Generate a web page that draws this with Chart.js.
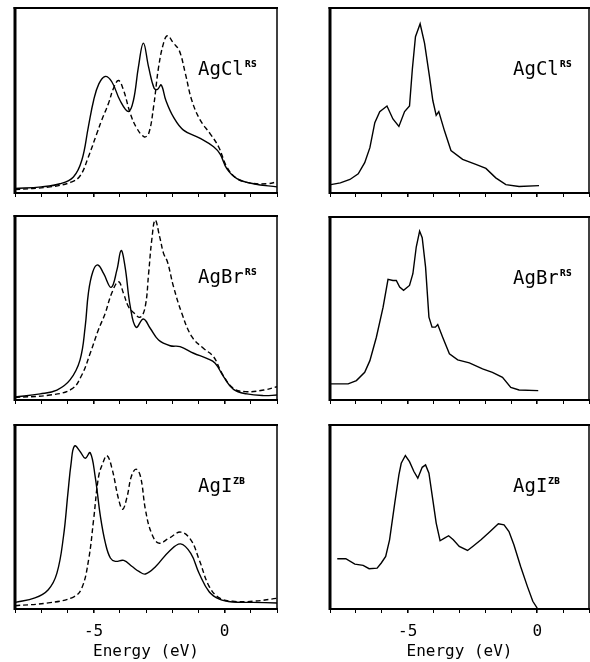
<!DOCTYPE html>
<html>
<head>
<meta charset="utf-8">
<style>
  html, body { margin: 0; padding: 0; background: #fff; overflow: hidden; width: 590px; height: 662px; }
  canvas { position: absolute; }
</style>
</head>
<body>
<canvas id="p1" style="left:11px;top:4px" width="270" height="197"></canvas>
<canvas id="p2" style="left:326px;top:4px" width="267" height="197"></canvas>
<canvas id="p3" style="left:11px;top:212px" width="270" height="196"></canvas>
<canvas id="p4" style="left:326px;top:213px" width="267" height="195"></canvas>
<canvas id="p5" style="left:11px;top:421px" width="270" height="240"></canvas>
<canvas id="p6" style="left:326px;top:421px" width="267" height="240"></canvas>

<script src="https://cdn.jsdelivr.net/npm/chart.js"></script>
<script>
// energy axis
var tickLabels = [-5, 0];

// AgCl (rock salt)
var agclSolidE = [-8, -7, -6.28, -5.77, -5.45, -5.2, -5.0, -4.8, -4.56, -4.3, -3.99, -3.67, -3.48, -3.29, -3.1, -2.9, -2.69, -2.56, -2.42, -2.24, -1.95, -1.57, -0.93, -0.42, -0.17, 0.09, 0.47, 1.1, 2];
var agclSolid = [2.4, 3.3, 5, 8.7, 17.7, 35.8, 50, 59, 63, 60, 50, 44, 50, 68, 81, 68, 56.6, 56, 58.4, 50, 41, 34, 29.5, 25, 21, 13, 7.8, 5, 3.3];
var agclDashE = [-8, -6.66, -5.83, -5.5, -5.2, -4.88, -4.69, -4.43, -4.24, -4.05, -3.86, -3.6, -3.35, -3.07, -2.9, -2.71, -2.52, -2.33, -2.18, -1.95, -1.73, -1.5, -1.25, -0.93, -0.55, -0.23, 0.09, 0.47, 0.98, 1.62, 2];
var agclDash = [1.8, 3.3, 6, 9.6, 19.5, 32, 39.4, 48.5, 56.6, 60.8, 55.7, 43, 35, 30.4, 32, 46.7, 68, 81, 85, 81, 77, 64.7, 50, 39.4, 32, 25, 14, 7.8, 5.4, 5, 6];
var agclExpE = [-7.97, -7.6, -7.23, -6.91, -6.66, -6.46, -6.27, -6.08, -5.8, -5.57, -5.34, -5.12, -4.93, -4.82, -4.7, -4.52, -4.35, -4.16, -4.03, -3.9, -3.8, -3.58, -3.33, -2.88, -2.37, -1.98, -1.6, -1.21, -0.7, 0.07];
var agclExp = [4.5, 5.5, 7.3, 10.4, 16.4, 24.5, 38, 44, 47, 40, 36, 44, 47, 67, 84.5, 91.5, 81, 63, 50, 42, 44, 33.6, 23, 18.2, 15.5, 13.3, 8.2, 4.5, 3.5, 4];

// AgBr (rock salt)
var agbrSolidE = [-8, -7.04, -6.4, -5.9, -5.52, -5.32, -5.2, -5.03, -4.84, -4.62, -4.33, -4.11, -3.95, -3.8, -3.6, -3.38, -3.1, -2.84, -2.52, -2.08, -1.7, -1.18, -0.68, -0.36, -0.04, 0.34, 0.85, 1.49, 2];
var agbrSolid = [1.6, 3.3, 5.4, 10.9, 21.7, 40, 58, 69.7, 73.4, 68.8, 61.2, 70.7, 81.2, 72.5, 50.7, 39.5, 44, 39, 32.6, 29.5, 29, 25.4, 22.6, 20, 12.7, 5.8, 3.3, 2.4, 2.7];
var agbrDashE = [-8, -6.66, -5.83, -5.45, -5.13, -4.82, -4.56, -4.31, -4.05, -3.86, -3.67, -3.48, -3.22, -3.03, -2.9, -2.78, -2.65, -2.48, -2.33, -2.18, -1.95, -1.63, -1.25, -0.8, -0.42, -0.1, 0.34, 0.85, 1.49, 2];
var agbrDash = [1.4, 2.7, 6, 13.6, 25.4, 38, 47, 58, 64.3, 58, 50.7, 47.6, 45, 50.7, 68.8, 87, 97.8, 88.8, 79.7, 75, 61.6, 47, 34.4, 28, 23.5, 14.5, 6.3, 4.5, 5.4, 7.2];
var agbrExpE = [-7.97, -7.3, -6.98, -6.66, -6.46, -6.21, -5.95, -5.76, -5.57, -5.44, -5.31, -5.16, -4.93, -4.8, -4.67, -4.54, -4.44, -4.31, -4.18, -4.06, -3.93, -3.84, -3.65, -3.39, -3.07, -2.62, -2.11, -1.73, -1.34, -1.02, -0.7, 0.04];
var agbrExp = [8.8, 8.8, 10.6, 15.1, 21.5, 34.3, 50.7, 65.9, 65.3, 65.3, 61.7, 59.9, 62.6, 69, 83.6, 92.3, 88.7, 72.6, 45.3, 39.8, 39.8, 41.2, 34.3, 25.2, 21.9, 20.3, 17, 15.1, 12.4, 6.9, 5.5, 5.1];

// AgI (zinc blende)
var agiSolidE = [-8, -7.24, -6.73, -6.4, -6.15, -5.98, -5.86, -5.73, -5.51, -5.32, -5.13, -4.94, -4.74, -4.55, -4.36, -4.17, -3.85, -3.53, -3.27, -3.02, -2.63, -2.12, -1.68, -1.29, -0.97, -0.59, -0.2, 0.31, 1.08, 2];
var agiSolid = [3.6, 6, 10.5, 19.5, 39.4, 63, 79, 88.6, 85.5, 81.9, 85, 72, 50.3, 35.8, 27.7, 25.9, 26.4, 23.1, 20.4, 19, 23.1, 31.3, 35.4, 30.2, 19.3, 9.4, 5.4, 3.8, 3.6, 3.3];
var agiDashE = [-8, -6.73, -5.77, -5.45, -5.19, -5, -4.81, -4.65, -4.49, -4.3, -4.04, -3.89, -3.72, -3.56, -3.38, -3.21, -3.02, -2.79, -2.51, -2.12, -1.68, -1.29, -0.97, -0.59, -0.2, 0.31, 1.08, 2];
var agiDash = [1.8, 3.3, 6.5, 11.4, 26.8, 48.5, 72, 79.2, 83.4, 76.5, 59.3, 54.2, 61.1, 72, 76, 72, 53.9, 41.2, 35.8, 38.5, 41.8, 37.6, 26.8, 12.3, 6, 4.2, 4.2, 5.8];
var agiExpE = [-7.72, -7.39, -7.04, -6.72, -6.49, -6.18, -6.02, -5.85, -5.7, -5.5, -5.34, -5.25, -5.09, -4.93, -4.76, -4.61, -4.44, -4.31, -4.18, -4.03, -3.9, -3.75, -3.58, -3.42, -3.24, -3.01, -2.69, -2.49, -2.17, -1.86, -1.5, -1.28, -1.09, -0.9, -0.64, -0.38, -0.17, 0];
var agiExp = [27.3, 27.3, 24.4, 23.7, 21.9, 22.2, 25, 28.6, 37.6, 57.5, 72.9, 79.2, 83.4, 80.1, 74.7, 71.1, 77, 78.3, 73.8, 59.3, 46.7, 37.1, 38.5, 39.8, 37.6, 34, 31.8, 34, 37.6, 41.6, 46.3, 45.7, 42.1, 34.9, 23.1, 12.3, 4.2, 0.5];

// box round the plot area (left, top, right; bottom is the x axis)
var framePlugin = {
  id: 'frame',
  afterDraw: function (c) {
    var a = c.chartArea, g = c.ctx;
    g.save();
    g.strokeStyle = '#000';
    g.lineWidth = 3;
    g.beginPath(); g.moveTo(a.left, a.bottom + 1); g.lineTo(a.left, a.top - 1); g.stroke();
    g.lineWidth = 2;
    g.beginPath(); g.moveTo(a.left - 1.5, a.top); g.lineTo(a.right + 1, a.top); g.stroke();
    g.lineWidth = 1.5;
    g.beginPath(); g.moveTo(a.right, a.top); g.lineTo(a.right, a.bottom); g.stroke();
    g.restore();
  }
};

function tagPlugin(text, sup) {
  return {
    id: 'tag',
    afterDraw: function (c) {
      var a = c.chartArea, g = c.ctx;
      var x = a.left + 183, y = a.top + 67;
      g.save();
      g.fillStyle = '#000';
      g.font = '19px "DejaVu Sans Mono"';
      g.textBaseline = 'alphabetic';
      g.fillText(text, x, y);
      var w = g.measureText(text).width;
      g.font = 'bold 8px "DejaVu Sans"';
      g.textBaseline = 'top';
      g.fillText(sup, x + w + 1, y - 14);
      g.restore();
    }
  };
}

function panel(id, text, sup, lines, bottom) {
  var ds = lines.map(function (l) {
    return {
      data: l.e.map(function (e, i) { return {x: e, y: l.y[i]}; }),
      borderColor: '#000',
      borderWidth: 1.4,
      borderDash: l.dash ? [5, 3] : [],
      pointRadius: 0,
      fill: false,
      tension: l.smooth ? 0.4 : 0
    };
  });
  new Chart(document.getElementById(id), {
    type: 'line',
    data: {datasets: ds},
    options: {
      responsive: false,
      animation: false,
      devicePixelRatio: 1,
      layout: {padding: {left: 4, right: 4, top: 4, bottom: 0}},
      plugins: {legend: {display: false}, tooltip: {enabled: false}},
      scales: {
        x: {
          type: 'linear', min: -8, max: 2,
          afterFit: function (s) { s.height = bottom ? 52 : 8; },
          ticks: {
            display: bottom, stepSize: 1, autoSkip: false, maxRotation: 0, padding: 4, color: '#000',
            font: {family: 'DejaVu Sans Mono', size: 16, lineHeight: 1.85},
            callback: function (v) { return tickLabels.indexOf(v) >= 0 ? String(v) : ''; }
          },
          grid: {
            display: true, drawOnChartArea: false, drawTicks: true, tickLength: 4, color: '#000',
            lineWidth: function (ctx) { return ctx.tick && tickLabels.indexOf(ctx.tick.value) >= 0 ? 1.6 : 1; }
          },
          border: {display: true, color: '#000', width: 2},
          title: {
            display: bottom, text: 'Energy (eV)', color: '#000',
            font: {family: 'DejaVu Sans Mono', size: 16}, padding: {top: 2, bottom: 0}
          }
        },
        y: {display: false, min: 0, max: 100}
      }
    },
    plugins: [framePlugin, tagPlugin(text, sup)]
  });
}

panel('p1', 'AgCl', 'RS', [
  {e: agclSolidE, y: agclSolid, smooth: true},
  {e: agclDashE, y: agclDash, smooth: true, dash: true}
], false);
panel('p2', 'AgCl', 'RS', [{e: agclExpE, y: agclExp}], false);
panel('p3', 'AgBr', 'RS', [
  {e: agbrSolidE, y: agbrSolid, smooth: true},
  {e: agbrDashE, y: agbrDash, smooth: true, dash: true}
], false);
panel('p4', 'AgBr', 'RS', [{e: agbrExpE, y: agbrExp}], false);
panel('p5', 'AgI', 'ZB', [
  {e: agiSolidE, y: agiSolid, smooth: true},
  {e: agiDashE, y: agiDash, smooth: true, dash: true}
], true);
panel('p6', 'AgI', 'ZB', [{e: agiExpE, y: agiExp}], true);
</script>
</body>
</html>
